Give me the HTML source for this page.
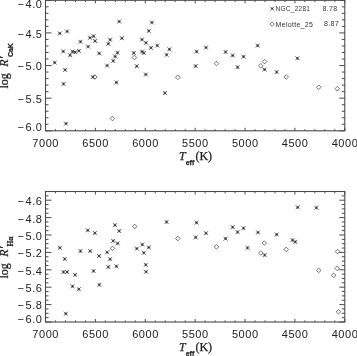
<!DOCTYPE html><html><head><meta charset="utf-8"><style>html,body{margin:0;padding:0;background:#fff;overflow:hidden}svg{display:block}</style></head><body><svg style="will-change:transform" width="357" height="356" viewBox="0 0 357 356">
<rect width="357" height="356" fill="#fff"/>
<style>
.tl{font-family:"Liberation Sans",sans-serif;font-size:11px;fill:#222;letter-spacing:0.55px}
.ser{font-family:"Liberation Serif",serif;font-size:12px;fill:#222;stroke:#222;stroke-width:0.25}
.it{font-style:italic}
.sb{font-family:"Liberation Sans",sans-serif;font-size:7px;font-weight:bold;fill:#222}
.lg{font-family:"Liberation Sans",sans-serif;font-size:7px;fill:#333;letter-spacing:0.3px}
</style>
<rect x="45.50" y="0.30" width="299.30" height="130.50" fill="none" stroke="#4a4a4a" stroke-width="1.1"/>
<line x1="45.50" y1="0.30" x2="51.50" y2="0.30" stroke="#4a4a4a" stroke-width="1.0"/>
<line x1="344.80" y1="0.30" x2="339.30" y2="0.30" stroke="#4a4a4a" stroke-width="1.0"/>
<line x1="45.50" y1="6.82" x2="48.50" y2="6.82" stroke="#4a4a4a" stroke-width="1.0"/>
<line x1="344.80" y1="6.82" x2="341.80" y2="6.82" stroke="#4a4a4a" stroke-width="1.0"/>
<line x1="45.50" y1="13.35" x2="48.50" y2="13.35" stroke="#4a4a4a" stroke-width="1.0"/>
<line x1="344.80" y1="13.35" x2="341.80" y2="13.35" stroke="#4a4a4a" stroke-width="1.0"/>
<line x1="45.50" y1="19.87" x2="48.50" y2="19.87" stroke="#4a4a4a" stroke-width="1.0"/>
<line x1="344.80" y1="19.87" x2="341.80" y2="19.87" stroke="#4a4a4a" stroke-width="1.0"/>
<line x1="45.50" y1="26.40" x2="48.50" y2="26.40" stroke="#4a4a4a" stroke-width="1.0"/>
<line x1="344.80" y1="26.40" x2="341.80" y2="26.40" stroke="#4a4a4a" stroke-width="1.0"/>
<line x1="45.50" y1="32.92" x2="51.50" y2="32.92" stroke="#4a4a4a" stroke-width="1.0"/>
<line x1="344.80" y1="32.92" x2="339.30" y2="32.92" stroke="#4a4a4a" stroke-width="1.0"/>
<line x1="45.50" y1="39.45" x2="48.50" y2="39.45" stroke="#4a4a4a" stroke-width="1.0"/>
<line x1="344.80" y1="39.45" x2="341.80" y2="39.45" stroke="#4a4a4a" stroke-width="1.0"/>
<line x1="45.50" y1="45.98" x2="48.50" y2="45.98" stroke="#4a4a4a" stroke-width="1.0"/>
<line x1="344.80" y1="45.98" x2="341.80" y2="45.98" stroke="#4a4a4a" stroke-width="1.0"/>
<line x1="45.50" y1="52.50" x2="48.50" y2="52.50" stroke="#4a4a4a" stroke-width="1.0"/>
<line x1="344.80" y1="52.50" x2="341.80" y2="52.50" stroke="#4a4a4a" stroke-width="1.0"/>
<line x1="45.50" y1="59.03" x2="48.50" y2="59.03" stroke="#4a4a4a" stroke-width="1.0"/>
<line x1="344.80" y1="59.03" x2="341.80" y2="59.03" stroke="#4a4a4a" stroke-width="1.0"/>
<line x1="45.50" y1="65.55" x2="51.50" y2="65.55" stroke="#4a4a4a" stroke-width="1.0"/>
<line x1="344.80" y1="65.55" x2="339.30" y2="65.55" stroke="#4a4a4a" stroke-width="1.0"/>
<line x1="45.50" y1="72.07" x2="48.50" y2="72.07" stroke="#4a4a4a" stroke-width="1.0"/>
<line x1="344.80" y1="72.07" x2="341.80" y2="72.07" stroke="#4a4a4a" stroke-width="1.0"/>
<line x1="45.50" y1="78.60" x2="48.50" y2="78.60" stroke="#4a4a4a" stroke-width="1.0"/>
<line x1="344.80" y1="78.60" x2="341.80" y2="78.60" stroke="#4a4a4a" stroke-width="1.0"/>
<line x1="45.50" y1="85.12" x2="48.50" y2="85.12" stroke="#4a4a4a" stroke-width="1.0"/>
<line x1="344.80" y1="85.12" x2="341.80" y2="85.12" stroke="#4a4a4a" stroke-width="1.0"/>
<line x1="45.50" y1="91.65" x2="48.50" y2="91.65" stroke="#4a4a4a" stroke-width="1.0"/>
<line x1="344.80" y1="91.65" x2="341.80" y2="91.65" stroke="#4a4a4a" stroke-width="1.0"/>
<line x1="45.50" y1="98.17" x2="51.50" y2="98.17" stroke="#4a4a4a" stroke-width="1.0"/>
<line x1="344.80" y1="98.17" x2="339.30" y2="98.17" stroke="#4a4a4a" stroke-width="1.0"/>
<line x1="45.50" y1="104.70" x2="48.50" y2="104.70" stroke="#4a4a4a" stroke-width="1.0"/>
<line x1="344.80" y1="104.70" x2="341.80" y2="104.70" stroke="#4a4a4a" stroke-width="1.0"/>
<line x1="45.50" y1="111.23" x2="48.50" y2="111.23" stroke="#4a4a4a" stroke-width="1.0"/>
<line x1="344.80" y1="111.23" x2="341.80" y2="111.23" stroke="#4a4a4a" stroke-width="1.0"/>
<line x1="45.50" y1="117.75" x2="48.50" y2="117.75" stroke="#4a4a4a" stroke-width="1.0"/>
<line x1="344.80" y1="117.75" x2="341.80" y2="117.75" stroke="#4a4a4a" stroke-width="1.0"/>
<line x1="45.50" y1="124.28" x2="48.50" y2="124.28" stroke="#4a4a4a" stroke-width="1.0"/>
<line x1="344.80" y1="124.28" x2="341.80" y2="124.28" stroke="#4a4a4a" stroke-width="1.0"/>
<line x1="45.50" y1="130.80" x2="51.50" y2="130.80" stroke="#4a4a4a" stroke-width="1.0"/>
<line x1="344.80" y1="130.80" x2="339.30" y2="130.80" stroke="#4a4a4a" stroke-width="1.0"/>
<line x1="344.80" y1="130.80" x2="344.80" y2="127.80" stroke="#4a4a4a" stroke-width="1.0"/>
<line x1="344.80" y1="0.30" x2="344.80" y2="3.30" stroke="#4a4a4a" stroke-width="1.0"/>
<line x1="334.82" y1="130.80" x2="334.82" y2="129.20" stroke="#4a4a4a" stroke-width="1.0"/>
<line x1="334.82" y1="0.30" x2="334.82" y2="2.10" stroke="#4a4a4a" stroke-width="1.0"/>
<line x1="324.85" y1="130.80" x2="324.85" y2="129.20" stroke="#4a4a4a" stroke-width="1.0"/>
<line x1="324.85" y1="0.30" x2="324.85" y2="2.10" stroke="#4a4a4a" stroke-width="1.0"/>
<line x1="314.87" y1="130.80" x2="314.87" y2="129.20" stroke="#4a4a4a" stroke-width="1.0"/>
<line x1="314.87" y1="0.30" x2="314.87" y2="2.10" stroke="#4a4a4a" stroke-width="1.0"/>
<line x1="304.89" y1="130.80" x2="304.89" y2="129.20" stroke="#4a4a4a" stroke-width="1.0"/>
<line x1="304.89" y1="0.30" x2="304.89" y2="2.10" stroke="#4a4a4a" stroke-width="1.0"/>
<line x1="294.92" y1="130.80" x2="294.92" y2="127.80" stroke="#4a4a4a" stroke-width="1.0"/>
<line x1="294.92" y1="0.30" x2="294.92" y2="3.30" stroke="#4a4a4a" stroke-width="1.0"/>
<line x1="284.94" y1="130.80" x2="284.94" y2="129.20" stroke="#4a4a4a" stroke-width="1.0"/>
<line x1="284.94" y1="0.30" x2="284.94" y2="2.10" stroke="#4a4a4a" stroke-width="1.0"/>
<line x1="274.96" y1="130.80" x2="274.96" y2="129.20" stroke="#4a4a4a" stroke-width="1.0"/>
<line x1="274.96" y1="0.30" x2="274.96" y2="2.10" stroke="#4a4a4a" stroke-width="1.0"/>
<line x1="264.99" y1="130.80" x2="264.99" y2="129.20" stroke="#4a4a4a" stroke-width="1.0"/>
<line x1="264.99" y1="0.30" x2="264.99" y2="2.10" stroke="#4a4a4a" stroke-width="1.0"/>
<line x1="255.01" y1="130.80" x2="255.01" y2="129.20" stroke="#4a4a4a" stroke-width="1.0"/>
<line x1="255.01" y1="0.30" x2="255.01" y2="2.10" stroke="#4a4a4a" stroke-width="1.0"/>
<line x1="245.03" y1="130.80" x2="245.03" y2="127.80" stroke="#4a4a4a" stroke-width="1.0"/>
<line x1="245.03" y1="0.30" x2="245.03" y2="3.30" stroke="#4a4a4a" stroke-width="1.0"/>
<line x1="235.06" y1="130.80" x2="235.06" y2="129.20" stroke="#4a4a4a" stroke-width="1.0"/>
<line x1="235.06" y1="0.30" x2="235.06" y2="2.10" stroke="#4a4a4a" stroke-width="1.0"/>
<line x1="225.08" y1="130.80" x2="225.08" y2="129.20" stroke="#4a4a4a" stroke-width="1.0"/>
<line x1="225.08" y1="0.30" x2="225.08" y2="2.10" stroke="#4a4a4a" stroke-width="1.0"/>
<line x1="215.10" y1="130.80" x2="215.10" y2="129.20" stroke="#4a4a4a" stroke-width="1.0"/>
<line x1="215.10" y1="0.30" x2="215.10" y2="2.10" stroke="#4a4a4a" stroke-width="1.0"/>
<line x1="205.13" y1="130.80" x2="205.13" y2="129.20" stroke="#4a4a4a" stroke-width="1.0"/>
<line x1="205.13" y1="0.30" x2="205.13" y2="2.10" stroke="#4a4a4a" stroke-width="1.0"/>
<line x1="195.15" y1="130.80" x2="195.15" y2="127.80" stroke="#4a4a4a" stroke-width="1.0"/>
<line x1="195.15" y1="0.30" x2="195.15" y2="3.30" stroke="#4a4a4a" stroke-width="1.0"/>
<line x1="185.17" y1="130.80" x2="185.17" y2="129.20" stroke="#4a4a4a" stroke-width="1.0"/>
<line x1="185.17" y1="0.30" x2="185.17" y2="2.10" stroke="#4a4a4a" stroke-width="1.0"/>
<line x1="175.20" y1="130.80" x2="175.20" y2="129.20" stroke="#4a4a4a" stroke-width="1.0"/>
<line x1="175.20" y1="0.30" x2="175.20" y2="2.10" stroke="#4a4a4a" stroke-width="1.0"/>
<line x1="165.22" y1="130.80" x2="165.22" y2="129.20" stroke="#4a4a4a" stroke-width="1.0"/>
<line x1="165.22" y1="0.30" x2="165.22" y2="2.10" stroke="#4a4a4a" stroke-width="1.0"/>
<line x1="155.24" y1="130.80" x2="155.24" y2="129.20" stroke="#4a4a4a" stroke-width="1.0"/>
<line x1="155.24" y1="0.30" x2="155.24" y2="2.10" stroke="#4a4a4a" stroke-width="1.0"/>
<line x1="145.27" y1="130.80" x2="145.27" y2="127.80" stroke="#4a4a4a" stroke-width="1.0"/>
<line x1="145.27" y1="0.30" x2="145.27" y2="3.30" stroke="#4a4a4a" stroke-width="1.0"/>
<line x1="135.29" y1="130.80" x2="135.29" y2="129.20" stroke="#4a4a4a" stroke-width="1.0"/>
<line x1="135.29" y1="0.30" x2="135.29" y2="2.10" stroke="#4a4a4a" stroke-width="1.0"/>
<line x1="125.31" y1="130.80" x2="125.31" y2="129.20" stroke="#4a4a4a" stroke-width="1.0"/>
<line x1="125.31" y1="0.30" x2="125.31" y2="2.10" stroke="#4a4a4a" stroke-width="1.0"/>
<line x1="115.34" y1="130.80" x2="115.34" y2="129.20" stroke="#4a4a4a" stroke-width="1.0"/>
<line x1="115.34" y1="0.30" x2="115.34" y2="2.10" stroke="#4a4a4a" stroke-width="1.0"/>
<line x1="105.36" y1="130.80" x2="105.36" y2="129.20" stroke="#4a4a4a" stroke-width="1.0"/>
<line x1="105.36" y1="0.30" x2="105.36" y2="2.10" stroke="#4a4a4a" stroke-width="1.0"/>
<line x1="95.38" y1="130.80" x2="95.38" y2="127.80" stroke="#4a4a4a" stroke-width="1.0"/>
<line x1="95.38" y1="0.30" x2="95.38" y2="3.30" stroke="#4a4a4a" stroke-width="1.0"/>
<line x1="85.41" y1="130.80" x2="85.41" y2="129.20" stroke="#4a4a4a" stroke-width="1.0"/>
<line x1="85.41" y1="0.30" x2="85.41" y2="2.10" stroke="#4a4a4a" stroke-width="1.0"/>
<line x1="75.43" y1="130.80" x2="75.43" y2="129.20" stroke="#4a4a4a" stroke-width="1.0"/>
<line x1="75.43" y1="0.30" x2="75.43" y2="2.10" stroke="#4a4a4a" stroke-width="1.0"/>
<line x1="65.45" y1="130.80" x2="65.45" y2="129.20" stroke="#4a4a4a" stroke-width="1.0"/>
<line x1="65.45" y1="0.30" x2="65.45" y2="2.10" stroke="#4a4a4a" stroke-width="1.0"/>
<line x1="55.48" y1="130.80" x2="55.48" y2="129.20" stroke="#4a4a4a" stroke-width="1.0"/>
<line x1="55.48" y1="0.30" x2="55.48" y2="2.10" stroke="#4a4a4a" stroke-width="1.0"/>
<line x1="45.50" y1="130.80" x2="45.50" y2="127.80" stroke="#4a4a4a" stroke-width="1.0"/>
<line x1="45.50" y1="0.30" x2="45.50" y2="3.30" stroke="#4a4a4a" stroke-width="1.0"/>
<text x="42.5" y="7.80" class="tl" text-anchor="end">−<tspan dx="1">4.0</tspan></text>
<text x="42.5" y="37.60" class="tl" text-anchor="end">−<tspan dx="1">4.5</tspan></text>
<text x="42.5" y="70.10" class="tl" text-anchor="end">−<tspan dx="1">5.0</tspan></text>
<text x="42.5" y="102.50" class="tl" text-anchor="end">−<tspan dx="1">5.5</tspan></text>
<text x="42.5" y="130.50" class="tl" text-anchor="end">−<tspan dx="1">6.0</tspan></text>
<text x="45.70" y="146.50" class="tl" text-anchor="middle">7000</text>
<text x="95.58" y="146.50" class="tl" text-anchor="middle">6500</text>
<text x="145.47" y="146.50" class="tl" text-anchor="middle">6000</text>
<text x="195.35" y="146.50" class="tl" text-anchor="middle">5500</text>
<text x="245.23" y="146.50" class="tl" text-anchor="middle">5000</text>
<text x="295.12" y="146.50" class="tl" text-anchor="middle">4500</text>
<text x="345.00" y="146.50" class="tl" text-anchor="middle">4000</text>
<rect x="45.50" y="191.50" width="299.30" height="130.50" fill="none" stroke="#4a4a4a" stroke-width="1.1"/>
<line x1="45.50" y1="191.50" x2="48.50" y2="191.50" stroke="#4a4a4a" stroke-width="1.0"/>
<line x1="344.80" y1="191.50" x2="341.80" y2="191.50" stroke="#4a4a4a" stroke-width="1.0"/>
<line x1="45.50" y1="195.85" x2="48.50" y2="195.85" stroke="#4a4a4a" stroke-width="1.0"/>
<line x1="344.80" y1="195.85" x2="341.80" y2="195.85" stroke="#4a4a4a" stroke-width="1.0"/>
<line x1="45.50" y1="200.20" x2="51.50" y2="200.20" stroke="#4a4a4a" stroke-width="1.0"/>
<line x1="344.80" y1="200.20" x2="339.30" y2="200.20" stroke="#4a4a4a" stroke-width="1.0"/>
<line x1="45.50" y1="204.55" x2="48.50" y2="204.55" stroke="#4a4a4a" stroke-width="1.0"/>
<line x1="344.80" y1="204.55" x2="341.80" y2="204.55" stroke="#4a4a4a" stroke-width="1.0"/>
<line x1="45.50" y1="208.90" x2="48.50" y2="208.90" stroke="#4a4a4a" stroke-width="1.0"/>
<line x1="344.80" y1="208.90" x2="341.80" y2="208.90" stroke="#4a4a4a" stroke-width="1.0"/>
<line x1="45.50" y1="213.25" x2="48.50" y2="213.25" stroke="#4a4a4a" stroke-width="1.0"/>
<line x1="344.80" y1="213.25" x2="341.80" y2="213.25" stroke="#4a4a4a" stroke-width="1.0"/>
<line x1="45.50" y1="217.60" x2="51.50" y2="217.60" stroke="#4a4a4a" stroke-width="1.0"/>
<line x1="344.80" y1="217.60" x2="339.30" y2="217.60" stroke="#4a4a4a" stroke-width="1.0"/>
<line x1="45.50" y1="221.95" x2="48.50" y2="221.95" stroke="#4a4a4a" stroke-width="1.0"/>
<line x1="344.80" y1="221.95" x2="341.80" y2="221.95" stroke="#4a4a4a" stroke-width="1.0"/>
<line x1="45.50" y1="226.30" x2="48.50" y2="226.30" stroke="#4a4a4a" stroke-width="1.0"/>
<line x1="344.80" y1="226.30" x2="341.80" y2="226.30" stroke="#4a4a4a" stroke-width="1.0"/>
<line x1="45.50" y1="230.65" x2="48.50" y2="230.65" stroke="#4a4a4a" stroke-width="1.0"/>
<line x1="344.80" y1="230.65" x2="341.80" y2="230.65" stroke="#4a4a4a" stroke-width="1.0"/>
<line x1="45.50" y1="235.00" x2="51.50" y2="235.00" stroke="#4a4a4a" stroke-width="1.0"/>
<line x1="344.80" y1="235.00" x2="339.30" y2="235.00" stroke="#4a4a4a" stroke-width="1.0"/>
<line x1="45.50" y1="239.35" x2="48.50" y2="239.35" stroke="#4a4a4a" stroke-width="1.0"/>
<line x1="344.80" y1="239.35" x2="341.80" y2="239.35" stroke="#4a4a4a" stroke-width="1.0"/>
<line x1="45.50" y1="243.70" x2="48.50" y2="243.70" stroke="#4a4a4a" stroke-width="1.0"/>
<line x1="344.80" y1="243.70" x2="341.80" y2="243.70" stroke="#4a4a4a" stroke-width="1.0"/>
<line x1="45.50" y1="248.05" x2="48.50" y2="248.05" stroke="#4a4a4a" stroke-width="1.0"/>
<line x1="344.80" y1="248.05" x2="341.80" y2="248.05" stroke="#4a4a4a" stroke-width="1.0"/>
<line x1="45.50" y1="252.40" x2="51.50" y2="252.40" stroke="#4a4a4a" stroke-width="1.0"/>
<line x1="344.80" y1="252.40" x2="339.30" y2="252.40" stroke="#4a4a4a" stroke-width="1.0"/>
<line x1="45.50" y1="256.75" x2="48.50" y2="256.75" stroke="#4a4a4a" stroke-width="1.0"/>
<line x1="344.80" y1="256.75" x2="341.80" y2="256.75" stroke="#4a4a4a" stroke-width="1.0"/>
<line x1="45.50" y1="261.10" x2="48.50" y2="261.10" stroke="#4a4a4a" stroke-width="1.0"/>
<line x1="344.80" y1="261.10" x2="341.80" y2="261.10" stroke="#4a4a4a" stroke-width="1.0"/>
<line x1="45.50" y1="265.45" x2="48.50" y2="265.45" stroke="#4a4a4a" stroke-width="1.0"/>
<line x1="344.80" y1="265.45" x2="341.80" y2="265.45" stroke="#4a4a4a" stroke-width="1.0"/>
<line x1="45.50" y1="269.80" x2="51.50" y2="269.80" stroke="#4a4a4a" stroke-width="1.0"/>
<line x1="344.80" y1="269.80" x2="339.30" y2="269.80" stroke="#4a4a4a" stroke-width="1.0"/>
<line x1="45.50" y1="274.15" x2="48.50" y2="274.15" stroke="#4a4a4a" stroke-width="1.0"/>
<line x1="344.80" y1="274.15" x2="341.80" y2="274.15" stroke="#4a4a4a" stroke-width="1.0"/>
<line x1="45.50" y1="278.50" x2="48.50" y2="278.50" stroke="#4a4a4a" stroke-width="1.0"/>
<line x1="344.80" y1="278.50" x2="341.80" y2="278.50" stroke="#4a4a4a" stroke-width="1.0"/>
<line x1="45.50" y1="282.85" x2="48.50" y2="282.85" stroke="#4a4a4a" stroke-width="1.0"/>
<line x1="344.80" y1="282.85" x2="341.80" y2="282.85" stroke="#4a4a4a" stroke-width="1.0"/>
<line x1="45.50" y1="287.20" x2="51.50" y2="287.20" stroke="#4a4a4a" stroke-width="1.0"/>
<line x1="344.80" y1="287.20" x2="339.30" y2="287.20" stroke="#4a4a4a" stroke-width="1.0"/>
<line x1="45.50" y1="291.55" x2="48.50" y2="291.55" stroke="#4a4a4a" stroke-width="1.0"/>
<line x1="344.80" y1="291.55" x2="341.80" y2="291.55" stroke="#4a4a4a" stroke-width="1.0"/>
<line x1="45.50" y1="295.90" x2="48.50" y2="295.90" stroke="#4a4a4a" stroke-width="1.0"/>
<line x1="344.80" y1="295.90" x2="341.80" y2="295.90" stroke="#4a4a4a" stroke-width="1.0"/>
<line x1="45.50" y1="300.25" x2="48.50" y2="300.25" stroke="#4a4a4a" stroke-width="1.0"/>
<line x1="344.80" y1="300.25" x2="341.80" y2="300.25" stroke="#4a4a4a" stroke-width="1.0"/>
<line x1="45.50" y1="304.60" x2="51.50" y2="304.60" stroke="#4a4a4a" stroke-width="1.0"/>
<line x1="344.80" y1="304.60" x2="339.30" y2="304.60" stroke="#4a4a4a" stroke-width="1.0"/>
<line x1="45.50" y1="308.95" x2="48.50" y2="308.95" stroke="#4a4a4a" stroke-width="1.0"/>
<line x1="344.80" y1="308.95" x2="341.80" y2="308.95" stroke="#4a4a4a" stroke-width="1.0"/>
<line x1="45.50" y1="313.30" x2="48.50" y2="313.30" stroke="#4a4a4a" stroke-width="1.0"/>
<line x1="344.80" y1="313.30" x2="341.80" y2="313.30" stroke="#4a4a4a" stroke-width="1.0"/>
<line x1="45.50" y1="317.65" x2="48.50" y2="317.65" stroke="#4a4a4a" stroke-width="1.0"/>
<line x1="344.80" y1="317.65" x2="341.80" y2="317.65" stroke="#4a4a4a" stroke-width="1.0"/>
<line x1="45.50" y1="322.00" x2="51.50" y2="322.00" stroke="#4a4a4a" stroke-width="1.0"/>
<line x1="344.80" y1="322.00" x2="339.30" y2="322.00" stroke="#4a4a4a" stroke-width="1.0"/>
<line x1="344.80" y1="322.00" x2="344.80" y2="319.00" stroke="#4a4a4a" stroke-width="1.0"/>
<line x1="344.80" y1="191.50" x2="344.80" y2="194.50" stroke="#4a4a4a" stroke-width="1.0"/>
<line x1="334.82" y1="322.00" x2="334.82" y2="320.40" stroke="#4a4a4a" stroke-width="1.0"/>
<line x1="334.82" y1="191.50" x2="334.82" y2="193.30" stroke="#4a4a4a" stroke-width="1.0"/>
<line x1="324.85" y1="322.00" x2="324.85" y2="320.40" stroke="#4a4a4a" stroke-width="1.0"/>
<line x1="324.85" y1="191.50" x2="324.85" y2="193.30" stroke="#4a4a4a" stroke-width="1.0"/>
<line x1="314.87" y1="322.00" x2="314.87" y2="320.40" stroke="#4a4a4a" stroke-width="1.0"/>
<line x1="314.87" y1="191.50" x2="314.87" y2="193.30" stroke="#4a4a4a" stroke-width="1.0"/>
<line x1="304.89" y1="322.00" x2="304.89" y2="320.40" stroke="#4a4a4a" stroke-width="1.0"/>
<line x1="304.89" y1="191.50" x2="304.89" y2="193.30" stroke="#4a4a4a" stroke-width="1.0"/>
<line x1="294.92" y1="322.00" x2="294.92" y2="319.00" stroke="#4a4a4a" stroke-width="1.0"/>
<line x1="294.92" y1="191.50" x2="294.92" y2="194.50" stroke="#4a4a4a" stroke-width="1.0"/>
<line x1="284.94" y1="322.00" x2="284.94" y2="320.40" stroke="#4a4a4a" stroke-width="1.0"/>
<line x1="284.94" y1="191.50" x2="284.94" y2="193.30" stroke="#4a4a4a" stroke-width="1.0"/>
<line x1="274.96" y1="322.00" x2="274.96" y2="320.40" stroke="#4a4a4a" stroke-width="1.0"/>
<line x1="274.96" y1="191.50" x2="274.96" y2="193.30" stroke="#4a4a4a" stroke-width="1.0"/>
<line x1="264.99" y1="322.00" x2="264.99" y2="320.40" stroke="#4a4a4a" stroke-width="1.0"/>
<line x1="264.99" y1="191.50" x2="264.99" y2="193.30" stroke="#4a4a4a" stroke-width="1.0"/>
<line x1="255.01" y1="322.00" x2="255.01" y2="320.40" stroke="#4a4a4a" stroke-width="1.0"/>
<line x1="255.01" y1="191.50" x2="255.01" y2="193.30" stroke="#4a4a4a" stroke-width="1.0"/>
<line x1="245.03" y1="322.00" x2="245.03" y2="319.00" stroke="#4a4a4a" stroke-width="1.0"/>
<line x1="245.03" y1="191.50" x2="245.03" y2="194.50" stroke="#4a4a4a" stroke-width="1.0"/>
<line x1="235.06" y1="322.00" x2="235.06" y2="320.40" stroke="#4a4a4a" stroke-width="1.0"/>
<line x1="235.06" y1="191.50" x2="235.06" y2="193.30" stroke="#4a4a4a" stroke-width="1.0"/>
<line x1="225.08" y1="322.00" x2="225.08" y2="320.40" stroke="#4a4a4a" stroke-width="1.0"/>
<line x1="225.08" y1="191.50" x2="225.08" y2="193.30" stroke="#4a4a4a" stroke-width="1.0"/>
<line x1="215.10" y1="322.00" x2="215.10" y2="320.40" stroke="#4a4a4a" stroke-width="1.0"/>
<line x1="215.10" y1="191.50" x2="215.10" y2="193.30" stroke="#4a4a4a" stroke-width="1.0"/>
<line x1="205.13" y1="322.00" x2="205.13" y2="320.40" stroke="#4a4a4a" stroke-width="1.0"/>
<line x1="205.13" y1="191.50" x2="205.13" y2="193.30" stroke="#4a4a4a" stroke-width="1.0"/>
<line x1="195.15" y1="322.00" x2="195.15" y2="319.00" stroke="#4a4a4a" stroke-width="1.0"/>
<line x1="195.15" y1="191.50" x2="195.15" y2="194.50" stroke="#4a4a4a" stroke-width="1.0"/>
<line x1="185.17" y1="322.00" x2="185.17" y2="320.40" stroke="#4a4a4a" stroke-width="1.0"/>
<line x1="185.17" y1="191.50" x2="185.17" y2="193.30" stroke="#4a4a4a" stroke-width="1.0"/>
<line x1="175.20" y1="322.00" x2="175.20" y2="320.40" stroke="#4a4a4a" stroke-width="1.0"/>
<line x1="175.20" y1="191.50" x2="175.20" y2="193.30" stroke="#4a4a4a" stroke-width="1.0"/>
<line x1="165.22" y1="322.00" x2="165.22" y2="320.40" stroke="#4a4a4a" stroke-width="1.0"/>
<line x1="165.22" y1="191.50" x2="165.22" y2="193.30" stroke="#4a4a4a" stroke-width="1.0"/>
<line x1="155.24" y1="322.00" x2="155.24" y2="320.40" stroke="#4a4a4a" stroke-width="1.0"/>
<line x1="155.24" y1="191.50" x2="155.24" y2="193.30" stroke="#4a4a4a" stroke-width="1.0"/>
<line x1="145.27" y1="322.00" x2="145.27" y2="319.00" stroke="#4a4a4a" stroke-width="1.0"/>
<line x1="145.27" y1="191.50" x2="145.27" y2="194.50" stroke="#4a4a4a" stroke-width="1.0"/>
<line x1="135.29" y1="322.00" x2="135.29" y2="320.40" stroke="#4a4a4a" stroke-width="1.0"/>
<line x1="135.29" y1="191.50" x2="135.29" y2="193.30" stroke="#4a4a4a" stroke-width="1.0"/>
<line x1="125.31" y1="322.00" x2="125.31" y2="320.40" stroke="#4a4a4a" stroke-width="1.0"/>
<line x1="125.31" y1="191.50" x2="125.31" y2="193.30" stroke="#4a4a4a" stroke-width="1.0"/>
<line x1="115.34" y1="322.00" x2="115.34" y2="320.40" stroke="#4a4a4a" stroke-width="1.0"/>
<line x1="115.34" y1="191.50" x2="115.34" y2="193.30" stroke="#4a4a4a" stroke-width="1.0"/>
<line x1="105.36" y1="322.00" x2="105.36" y2="320.40" stroke="#4a4a4a" stroke-width="1.0"/>
<line x1="105.36" y1="191.50" x2="105.36" y2="193.30" stroke="#4a4a4a" stroke-width="1.0"/>
<line x1="95.38" y1="322.00" x2="95.38" y2="319.00" stroke="#4a4a4a" stroke-width="1.0"/>
<line x1="95.38" y1="191.50" x2="95.38" y2="194.50" stroke="#4a4a4a" stroke-width="1.0"/>
<line x1="85.41" y1="322.00" x2="85.41" y2="320.40" stroke="#4a4a4a" stroke-width="1.0"/>
<line x1="85.41" y1="191.50" x2="85.41" y2="193.30" stroke="#4a4a4a" stroke-width="1.0"/>
<line x1="75.43" y1="322.00" x2="75.43" y2="320.40" stroke="#4a4a4a" stroke-width="1.0"/>
<line x1="75.43" y1="191.50" x2="75.43" y2="193.30" stroke="#4a4a4a" stroke-width="1.0"/>
<line x1="65.45" y1="322.00" x2="65.45" y2="320.40" stroke="#4a4a4a" stroke-width="1.0"/>
<line x1="65.45" y1="191.50" x2="65.45" y2="193.30" stroke="#4a4a4a" stroke-width="1.0"/>
<line x1="55.48" y1="322.00" x2="55.48" y2="320.40" stroke="#4a4a4a" stroke-width="1.0"/>
<line x1="55.48" y1="191.50" x2="55.48" y2="193.30" stroke="#4a4a4a" stroke-width="1.0"/>
<line x1="45.50" y1="322.00" x2="45.50" y2="319.00" stroke="#4a4a4a" stroke-width="1.0"/>
<line x1="45.50" y1="191.50" x2="45.50" y2="194.50" stroke="#4a4a4a" stroke-width="1.0"/>
<text x="42.5" y="205.20" class="tl" text-anchor="end">−<tspan dx="1">4.6</tspan></text>
<text x="42.5" y="222.50" class="tl" text-anchor="end">−<tspan dx="1">4.8</tspan></text>
<text x="42.5" y="239.90" class="tl" text-anchor="end">−<tspan dx="1">5.0</tspan></text>
<text x="42.5" y="257.20" class="tl" text-anchor="end">−<tspan dx="1">5.2</tspan></text>
<text x="42.5" y="274.60" class="tl" text-anchor="end">−<tspan dx="1">5.4</tspan></text>
<text x="42.5" y="291.80" class="tl" text-anchor="end">−<tspan dx="1">5.6</tspan></text>
<text x="42.5" y="309.30" class="tl" text-anchor="end">−<tspan dx="1">5.8</tspan></text>
<text x="42.5" y="322.60" class="tl" text-anchor="end">−<tspan dx="1">6.0</tspan></text>
<text x="45.70" y="337.80" class="tl" text-anchor="middle">7000</text>
<text x="95.58" y="337.80" class="tl" text-anchor="middle">6500</text>
<text x="145.47" y="337.80" class="tl" text-anchor="middle">6000</text>
<text x="195.35" y="337.80" class="tl" text-anchor="middle">5500</text>
<text x="245.23" y="337.80" class="tl" text-anchor="middle">5000</text>
<text x="295.12" y="337.80" class="tl" text-anchor="middle">4500</text>
<text x="345.00" y="337.80" class="tl" text-anchor="middle">4000</text>
<path d="M52.70 60.60L56.70 64.60M52.70 64.60L56.70 60.60M53.30 62.60H56.10M54.70 61.20V64.00" stroke="#2a2a2a" stroke-width="0.7" fill="none"/>
<path d="M57.80 31.40L61.80 35.40M57.80 35.40L61.80 31.40M58.40 33.40H61.20M59.80 32.00V34.80" stroke="#2a2a2a" stroke-width="0.7" fill="none"/>
<path d="M65.10 29.40L69.10 33.40M65.10 33.40L69.10 29.40M65.70 31.40H68.50M67.10 30.00V32.80" stroke="#2a2a2a" stroke-width="0.7" fill="none"/>
<path d="M61.20 49.40L65.20 53.40M61.20 53.40L65.20 49.40M61.80 51.40H64.60M63.20 50.00V52.80" stroke="#2a2a2a" stroke-width="0.7" fill="none"/>
<path d="M63.10 67.90L67.10 71.90M63.10 71.90L67.10 67.90M63.70 69.90H66.50M65.10 68.50V71.30" stroke="#2a2a2a" stroke-width="0.7" fill="none"/>
<path d="M61.50 81.90L65.50 85.90M61.50 85.90L65.50 81.90M62.10 83.90H64.90M63.50 82.50V85.30" stroke="#2a2a2a" stroke-width="0.7" fill="none"/>
<path d="M64.00 121.60L68.00 125.60M64.00 125.60L68.00 121.60M64.60 123.60H67.40M66.00 122.20V125.00" stroke="#2a2a2a" stroke-width="0.7" fill="none"/>
<path d="M68.10 53.20L72.10 57.20M68.10 57.20L72.10 53.20M68.70 55.20H71.50M70.10 53.80V56.60" stroke="#2a2a2a" stroke-width="0.7" fill="none"/>
<path d="M70.60 49.60L74.60 53.60M70.60 53.60L74.60 49.60M71.20 51.60H74.00M72.60 50.20V53.00" stroke="#2a2a2a" stroke-width="0.7" fill="none"/>
<path d="M73.20 50.20L77.20 54.20M73.20 54.20L77.20 50.20M73.80 52.20H76.60M75.20 50.80V53.60" stroke="#2a2a2a" stroke-width="0.7" fill="none"/>
<path d="M76.90 48.90L80.90 52.90M76.90 52.90L80.90 48.90M77.50 50.90H80.30M78.90 49.50V52.30" stroke="#2a2a2a" stroke-width="0.7" fill="none"/>
<path d="M78.50 39.80L82.50 43.80M78.50 43.80L82.50 39.80M79.10 41.80H81.90M80.50 40.40V43.20" stroke="#2a2a2a" stroke-width="0.7" fill="none"/>
<path d="M86.10 44.60L90.10 48.60M86.10 48.60L90.10 44.60M86.70 46.60H89.50M88.10 45.20V48.00" stroke="#2a2a2a" stroke-width="0.7" fill="none"/>
<path d="M88.00 35.80L92.00 39.80M88.00 39.80L92.00 35.80M88.60 37.80H91.40M90.00 36.40V39.20" stroke="#2a2a2a" stroke-width="0.7" fill="none"/>
<path d="M91.60 34.20L95.60 38.20M91.60 38.20L95.60 34.20M92.20 36.20H95.00M93.60 34.80V37.60" stroke="#2a2a2a" stroke-width="0.7" fill="none"/>
<path d="M93.10 39.00L97.10 43.00M93.10 43.00L97.10 39.00M93.70 41.00H96.50M95.10 39.60V42.40" stroke="#2a2a2a" stroke-width="0.7" fill="none"/>
<path d="M90.90 75.00L94.90 79.00M90.90 79.00L94.90 75.00M91.50 77.00H94.30M92.90 75.60V78.40" stroke="#2a2a2a" stroke-width="0.7" fill="none"/>
<path d="M97.20 51.40L101.20 55.40M97.20 55.40L101.20 51.40M97.80 53.40H100.60M99.20 52.00V54.80" stroke="#2a2a2a" stroke-width="0.7" fill="none"/>
<path d="M105.10 63.60L109.10 67.60M105.10 67.60L109.10 63.60M105.70 65.60H108.50M107.10 64.20V67.00" stroke="#2a2a2a" stroke-width="0.7" fill="none"/>
<path d="M106.30 41.80L110.30 45.80M106.30 45.80L110.30 41.80M106.90 43.80H109.70M108.30 42.40V45.20" stroke="#2a2a2a" stroke-width="0.7" fill="none"/>
<path d="M108.10 37.70L112.10 41.70M108.10 41.70L112.10 37.70M108.70 39.70H111.50M110.10 38.30V41.10" stroke="#2a2a2a" stroke-width="0.7" fill="none"/>
<path d="M111.20 58.90L115.20 62.90M111.20 62.90L115.20 58.90M111.80 60.90H114.60M113.20 59.50V62.30" stroke="#2a2a2a" stroke-width="0.7" fill="none"/>
<path d="M113.10 54.50L117.10 58.50M113.10 58.50L117.10 54.50M113.70 56.50H116.50M115.10 55.10V57.90" stroke="#2a2a2a" stroke-width="0.7" fill="none"/>
<path d="M115.50 50.70L119.50 54.70M115.50 54.70L119.50 50.70M116.10 52.70H118.90M117.50 51.30V54.10" stroke="#2a2a2a" stroke-width="0.7" fill="none"/>
<path d="M114.40 80.50L118.40 84.50M114.40 84.50L118.40 80.50M115.00 82.50H117.80M116.40 81.10V83.90" stroke="#2a2a2a" stroke-width="0.7" fill="none"/>
<path d="M117.20 19.50L121.20 23.50M117.20 23.50L121.20 19.50M117.80 21.50H120.60M119.20 20.10V22.90" stroke="#2a2a2a" stroke-width="0.7" fill="none"/>
<path d="M119.90 36.20L123.90 40.20M119.90 40.20L123.90 36.20M120.50 38.20H123.30M121.90 36.80V39.60" stroke="#2a2a2a" stroke-width="0.7" fill="none"/>
<path d="M131.80 51.00L135.80 55.00M131.80 55.00L135.80 51.00M132.40 53.00H135.20M133.80 51.60V54.40" stroke="#2a2a2a" stroke-width="0.7" fill="none"/>
<path d="M134.80 64.20L138.80 68.20M134.80 68.20L138.80 64.20M135.40 66.20H138.20M136.80 64.80V67.60" stroke="#2a2a2a" stroke-width="0.7" fill="none"/>
<path d="M140.00 37.60L144.00 41.60M140.00 41.60L144.00 37.60M140.60 39.60H143.40M142.00 38.20V41.00" stroke="#2a2a2a" stroke-width="0.7" fill="none"/>
<path d="M140.00 49.60L144.00 53.60M140.00 53.60L144.00 49.60M140.60 51.60H143.40M142.00 50.20V53.00" stroke="#2a2a2a" stroke-width="0.7" fill="none"/>
<path d="M141.80 51.00L145.80 55.00M141.80 55.00L145.80 51.00M142.40 53.00H145.20M143.80 51.60V54.40" stroke="#2a2a2a" stroke-width="0.7" fill="none"/>
<path d="M144.00 40.80L148.00 44.80M144.00 44.80L148.00 40.80M144.60 42.80H147.40M146.00 41.40V44.20" stroke="#2a2a2a" stroke-width="0.7" fill="none"/>
<path d="M143.80 72.50L147.80 76.50M143.80 76.50L147.80 72.50M144.40 74.50H147.20M145.80 73.10V75.90" stroke="#2a2a2a" stroke-width="0.7" fill="none"/>
<path d="M146.80 28.90L150.80 32.90M146.80 32.90L150.80 28.90M147.40 30.90H150.20M148.80 29.50V32.30" stroke="#2a2a2a" stroke-width="0.7" fill="none"/>
<path d="M149.00 45.80L153.00 49.80M149.00 49.80L153.00 45.80M149.60 47.80H152.40M151.00 46.40V49.20" stroke="#2a2a2a" stroke-width="0.7" fill="none"/>
<path d="M149.90 20.50L153.90 24.50M149.90 24.50L153.90 20.50M150.50 22.50H153.30M151.90 21.10V23.90" stroke="#2a2a2a" stroke-width="0.7" fill="none"/>
<path d="M155.30 43.60L159.30 47.60M155.30 47.60L159.30 43.60M155.90 45.60H158.70M157.30 44.20V47.00" stroke="#2a2a2a" stroke-width="0.7" fill="none"/>
<path d="M162.90 91.00L166.90 95.00M162.90 95.00L166.90 91.00M163.50 93.00H166.30M164.90 91.60V94.40" stroke="#2a2a2a" stroke-width="0.7" fill="none"/>
<path d="M164.60 52.80L168.60 56.80M164.60 56.80L168.60 52.80M165.20 54.80H168.00M166.60 53.40V56.20" stroke="#2a2a2a" stroke-width="0.7" fill="none"/>
<path d="M167.40 47.30L171.40 51.30M167.40 51.30L171.40 47.30M168.00 49.30H170.80M169.40 47.90V50.70" stroke="#2a2a2a" stroke-width="0.7" fill="none"/>
<path d="M193.70 64.10L197.70 68.10M193.70 68.10L197.70 64.10M194.30 66.10H197.10M195.70 64.70V67.50" stroke="#2a2a2a" stroke-width="0.7" fill="none"/>
<path d="M194.60 49.60L198.60 53.60M194.60 53.60L198.60 49.60M195.20 51.60H198.00M196.60 50.20V53.00" stroke="#2a2a2a" stroke-width="0.7" fill="none"/>
<path d="M204.00 45.60L208.00 49.60M204.00 49.60L208.00 45.60M204.60 47.60H207.40M206.00 46.20V49.00" stroke="#2a2a2a" stroke-width="0.7" fill="none"/>
<path d="M223.60 50.00L227.60 54.00M223.60 54.00L227.60 50.00M224.20 52.00H227.00M225.60 50.60V53.40" stroke="#2a2a2a" stroke-width="0.7" fill="none"/>
<path d="M230.70 53.50L234.70 57.50M230.70 57.50L234.70 53.50M231.30 55.50H234.10M232.70 54.10V56.90" stroke="#2a2a2a" stroke-width="0.7" fill="none"/>
<path d="M235.60 65.20L239.60 69.20M235.60 69.20L239.60 65.20M236.20 67.20H239.00M237.60 65.80V68.60" stroke="#2a2a2a" stroke-width="0.7" fill="none"/>
<path d="M241.50 54.70L245.50 58.70M241.50 58.70L245.50 54.70M242.10 56.70H244.90M243.50 55.30V58.10" stroke="#2a2a2a" stroke-width="0.7" fill="none"/>
<path d="M255.70 43.60L259.70 47.60M255.70 47.60L259.70 43.60M256.30 45.60H259.10M257.70 44.20V47.00" stroke="#2a2a2a" stroke-width="0.7" fill="none"/>
<path d="M262.60 67.60L266.60 71.60M262.60 71.60L266.60 67.60M263.20 69.60H266.00M264.60 68.20V71.00" stroke="#2a2a2a" stroke-width="0.7" fill="none"/>
<path d="M274.70 70.10L278.70 74.10M274.70 74.10L278.70 70.10M275.30 72.10H278.10M276.70 70.70V73.50" stroke="#2a2a2a" stroke-width="0.7" fill="none"/>
<path d="M295.40 56.30L299.40 60.30M295.40 60.30L299.40 56.30M296.00 58.30H298.80M297.40 56.90V59.70" stroke="#2a2a2a" stroke-width="0.7" fill="none"/>
<path d="M94.80 74.70L97.10 77.00L94.80 79.30L92.50 77.00Z" stroke="#444" stroke-width="0.75" fill="none"/>
<path d="M112.40 116.20L114.70 118.50L112.40 120.80L110.10 118.50Z" stroke="#444" stroke-width="0.75" fill="none"/>
<path d="M134.40 55.20L136.70 57.50L134.40 59.80L132.10 57.50Z" stroke="#444" stroke-width="0.75" fill="none"/>
<path d="M177.80 75.00L180.10 77.30L177.80 79.60L175.50 77.30Z" stroke="#444" stroke-width="0.75" fill="none"/>
<path d="M216.50 61.20L218.80 63.50L216.50 65.80L214.20 63.50Z" stroke="#444" stroke-width="0.75" fill="none"/>
<path d="M264.60 59.30L266.90 61.60L264.60 63.90L262.30 61.60Z" stroke="#444" stroke-width="0.75" fill="none"/>
<path d="M260.80 63.50L263.10 65.80L260.80 68.10L258.50 65.80Z" stroke="#444" stroke-width="0.75" fill="none"/>
<path d="M286.20 74.70L288.50 77.00L286.20 79.30L283.90 77.00Z" stroke="#444" stroke-width="0.75" fill="none"/>
<path d="M318.80 85.00L321.10 87.30L318.80 89.60L316.50 87.30Z" stroke="#444" stroke-width="0.75" fill="none"/>
<path d="M337.30 86.40L339.60 88.70L337.30 91.00L335.00 88.70Z" stroke="#444" stroke-width="0.75" fill="none"/>
<path d="M85.80 228.30L89.80 232.30M85.80 232.30L89.80 228.30M86.40 230.30H89.20M87.80 228.90V231.70" stroke="#2a2a2a" stroke-width="0.7" fill="none"/>
<path d="M92.90 231.10L96.90 235.10M92.90 235.10L96.90 231.10M93.50 233.10H96.30M94.90 231.70V234.50" stroke="#2a2a2a" stroke-width="0.7" fill="none"/>
<path d="M57.80 245.80L61.80 249.80M57.80 249.80L61.80 245.80M58.40 247.80H61.20M59.80 246.40V249.20" stroke="#2a2a2a" stroke-width="0.7" fill="none"/>
<path d="M78.50 249.10L82.50 253.10M78.50 253.10L82.50 249.10M79.10 251.10H81.90M80.50 249.70V252.50" stroke="#2a2a2a" stroke-width="0.7" fill="none"/>
<path d="M88.20 249.10L92.20 253.10M88.20 253.10L92.20 249.10M88.80 251.10H91.60M90.20 249.70V252.50" stroke="#2a2a2a" stroke-width="0.7" fill="none"/>
<path d="M62.80 257.00L66.80 261.00M62.80 261.00L66.80 257.00M63.40 259.00H66.20M64.80 257.60V260.40" stroke="#2a2a2a" stroke-width="0.7" fill="none"/>
<path d="M61.50 270.00L65.50 274.00M61.50 274.00L65.50 270.00M62.10 272.00H64.90M63.50 270.60V273.40" stroke="#2a2a2a" stroke-width="0.7" fill="none"/>
<path d="M65.10 270.00L69.10 274.00M65.10 274.00L69.10 270.00M65.70 272.00H68.50M67.10 270.60V273.40" stroke="#2a2a2a" stroke-width="0.7" fill="none"/>
<path d="M73.10 272.90L77.10 276.90M73.10 276.90L77.10 272.90M73.70 274.90H76.50M75.10 273.50V276.30" stroke="#2a2a2a" stroke-width="0.7" fill="none"/>
<path d="M91.60 269.00L95.60 273.00M91.60 273.00L95.60 269.00M92.20 271.00H95.00M93.60 269.60V272.40" stroke="#2a2a2a" stroke-width="0.7" fill="none"/>
<path d="M70.50 284.30L74.50 288.30M70.50 288.30L74.50 284.30M71.10 286.30H73.90M72.50 284.90V287.70" stroke="#2a2a2a" stroke-width="0.7" fill="none"/>
<path d="M76.80 287.20L80.80 291.20M76.80 291.20L80.80 287.20M77.40 289.20H80.20M78.80 287.80V290.60" stroke="#2a2a2a" stroke-width="0.7" fill="none"/>
<path d="M63.80 311.70L67.80 315.70M63.80 315.70L67.80 311.70M64.40 313.70H67.20M65.80 312.30V315.10" stroke="#2a2a2a" stroke-width="0.7" fill="none"/>
<path d="M113.00 223.10L117.00 227.10M113.00 227.10L117.00 223.10M113.60 225.10H116.40M115.00 223.70V226.50" stroke="#2a2a2a" stroke-width="0.7" fill="none"/>
<path d="M117.20 229.00L121.20 233.00M117.20 233.00L121.20 229.00M117.80 231.00H120.60M119.20 229.60V232.40" stroke="#2a2a2a" stroke-width="0.7" fill="none"/>
<path d="M111.20 238.90L115.20 242.90M111.20 242.90L115.20 238.90M111.80 240.90H114.60M113.20 239.50V242.30" stroke="#2a2a2a" stroke-width="0.7" fill="none"/>
<path d="M115.70 241.40L119.70 245.40M115.70 245.40L119.70 241.40M116.30 243.40H119.10M117.70 242.00V244.80" stroke="#2a2a2a" stroke-width="0.7" fill="none"/>
<path d="M105.10 250.30L109.10 254.30M105.10 254.30L109.10 250.30M105.70 252.30H108.50M107.10 250.90V253.70" stroke="#2a2a2a" stroke-width="0.7" fill="none"/>
<path d="M97.10 254.00L101.10 258.00M97.10 258.00L101.10 254.00M97.70 256.00H100.50M99.10 254.60V257.40" stroke="#2a2a2a" stroke-width="0.7" fill="none"/>
<path d="M108.10 257.20L112.10 261.20M108.10 261.20L112.10 257.20M108.70 259.20H111.50M110.10 257.80V260.60" stroke="#2a2a2a" stroke-width="0.7" fill="none"/>
<path d="M106.30 265.00L110.30 269.00M106.30 269.00L110.30 265.00M106.90 267.00H109.70M108.30 265.60V268.40" stroke="#2a2a2a" stroke-width="0.7" fill="none"/>
<path d="M114.40 264.30L118.40 268.30M114.40 268.30L118.40 264.30M115.00 266.30H117.80M116.40 264.90V267.70" stroke="#2a2a2a" stroke-width="0.7" fill="none"/>
<path d="M97.30 282.80L101.30 286.80M97.30 286.80L101.30 282.80M97.90 284.80H100.70M99.30 283.40V286.20" stroke="#2a2a2a" stroke-width="0.7" fill="none"/>
<path d="M134.80 246.60L138.80 250.60M134.80 250.60L138.80 246.60M135.40 248.60H138.20M136.80 247.20V250.00" stroke="#2a2a2a" stroke-width="0.7" fill="none"/>
<path d="M164.60 220.00L168.60 224.00M164.60 224.00L168.60 220.00M165.20 222.00H168.00M166.60 220.60V223.40" stroke="#2a2a2a" stroke-width="0.7" fill="none"/>
<path d="M140.30 242.60L144.30 246.60M140.30 246.60L144.30 242.60M140.90 244.60H143.70M142.30 243.20V246.00" stroke="#2a2a2a" stroke-width="0.7" fill="none"/>
<path d="M146.80 245.40L150.80 249.40M146.80 249.40L150.80 245.40M147.40 247.40H150.20M148.80 246.00V248.80" stroke="#2a2a2a" stroke-width="0.7" fill="none"/>
<path d="M141.80 250.80L145.80 254.80M141.80 254.80L145.80 250.80M142.40 252.80H145.20M143.80 251.40V254.20" stroke="#2a2a2a" stroke-width="0.7" fill="none"/>
<path d="M143.80 262.80L147.80 266.80M143.80 266.80L147.80 262.80M144.40 264.80H147.20M145.80 263.40V266.20" stroke="#2a2a2a" stroke-width="0.7" fill="none"/>
<path d="M144.00 269.80L148.00 273.80M144.00 273.80L148.00 269.80M144.60 271.80H147.40M146.00 270.40V273.20" stroke="#2a2a2a" stroke-width="0.7" fill="none"/>
<path d="M194.60 220.70L198.60 224.70M194.60 224.70L198.60 220.70M195.20 222.70H198.00M196.60 221.30V224.10" stroke="#2a2a2a" stroke-width="0.7" fill="none"/>
<path d="M204.00 231.20L208.00 235.20M204.00 235.20L208.00 231.20M204.60 233.20H207.40M206.00 231.80V234.60" stroke="#2a2a2a" stroke-width="0.7" fill="none"/>
<path d="M193.70 235.40L197.70 239.40M193.70 239.40L197.70 235.40M194.30 237.40H197.10M195.70 236.00V238.80" stroke="#2a2a2a" stroke-width="0.7" fill="none"/>
<path d="M223.60 236.60L227.60 240.60M223.60 240.60L227.60 236.60M224.20 238.60H227.00M225.60 237.20V240.00" stroke="#2a2a2a" stroke-width="0.7" fill="none"/>
<path d="M230.70 225.20L234.70 229.20M230.70 229.20L234.70 225.20M231.30 227.20H234.10M232.70 225.80V228.60" stroke="#2a2a2a" stroke-width="0.7" fill="none"/>
<path d="M235.60 230.10L239.60 234.10M235.60 234.10L239.60 230.10M236.20 232.10H239.00M237.60 230.70V233.50" stroke="#2a2a2a" stroke-width="0.7" fill="none"/>
<path d="M241.50 226.20L245.50 230.20M241.50 230.20L245.50 226.20M242.10 228.20H244.90M243.50 226.80V229.60" stroke="#2a2a2a" stroke-width="0.7" fill="none"/>
<path d="M256.00 230.40L260.00 234.40M256.00 234.40L260.00 230.40M256.60 232.40H259.40M258.00 231.00V233.80" stroke="#2a2a2a" stroke-width="0.7" fill="none"/>
<path d="M245.50 245.90L249.50 249.90M245.50 249.90L249.50 245.90M246.10 247.90H248.90M247.50 246.50V249.30" stroke="#2a2a2a" stroke-width="0.7" fill="none"/>
<path d="M262.70 253.10L266.70 257.10M262.70 257.10L266.70 253.10M263.30 255.10H266.10M264.70 253.70V256.50" stroke="#2a2a2a" stroke-width="0.7" fill="none"/>
<path d="M295.70 205.30L299.70 209.30M295.70 209.30L299.70 205.30M296.30 207.30H299.10M297.70 205.90V208.70" stroke="#2a2a2a" stroke-width="0.7" fill="none"/>
<path d="M314.40 205.80L318.40 209.80M314.40 209.80L318.40 205.80M315.00 207.80H317.80M316.40 206.40V209.20" stroke="#2a2a2a" stroke-width="0.7" fill="none"/>
<path d="M274.70 232.50L278.70 236.50M274.70 236.50L278.70 232.50M275.30 234.50H278.10M276.70 233.10V235.90" stroke="#2a2a2a" stroke-width="0.7" fill="none"/>
<path d="M290.50 238.10L294.50 242.10M290.50 242.10L294.50 238.10M291.10 240.10H293.90M292.50 238.70V241.50" stroke="#2a2a2a" stroke-width="0.7" fill="none"/>
<path d="M293.30 239.90L297.30 243.90M293.30 243.90L297.30 239.90M293.90 241.90H296.70M295.30 240.50V243.30" stroke="#2a2a2a" stroke-width="0.7" fill="none"/>
<path d="M134.70 224.20L137.00 226.50L134.70 228.80L132.40 226.50Z" stroke="#444" stroke-width="0.75" fill="none"/>
<path d="M112.50 246.00L114.80 248.30L112.50 250.60L110.20 248.30Z" stroke="#444" stroke-width="0.75" fill="none"/>
<path d="M177.80 236.20L180.10 238.50L177.80 240.80L175.50 238.50Z" stroke="#444" stroke-width="0.75" fill="none"/>
<path d="M216.50 244.60L218.80 246.90L216.50 249.20L214.20 246.90Z" stroke="#444" stroke-width="0.75" fill="none"/>
<path d="M264.30 240.80L266.60 243.10L264.30 245.40L262.00 243.10Z" stroke="#444" stroke-width="0.75" fill="none"/>
<path d="M260.80 250.70L263.10 253.00L260.80 255.30L258.50 253.00Z" stroke="#444" stroke-width="0.75" fill="none"/>
<path d="M286.20 247.10L288.50 249.40L286.20 251.70L283.90 249.40Z" stroke="#444" stroke-width="0.75" fill="none"/>
<path d="M337.60 249.30L339.90 251.60L337.60 253.90L335.30 251.60Z" stroke="#444" stroke-width="0.75" fill="none"/>
<path d="M318.70 268.10L321.00 270.40L318.70 272.70L316.40 270.40Z" stroke="#444" stroke-width="0.75" fill="none"/>
<path d="M337.20 266.10L339.50 268.40L337.20 270.70L334.90 268.40Z" stroke="#444" stroke-width="0.75" fill="none"/>
<path d="M333.70 273.10L336.00 275.40L333.70 277.70L331.40 275.40Z" stroke="#444" stroke-width="0.75" fill="none"/>
<path d="M338.50 309.50L340.80 311.80L338.50 314.10L336.20 311.80Z" stroke="#444" stroke-width="0.75" fill="none"/>
<path d="M270.20 6.60L274.20 10.60M270.20 10.60L274.20 6.60M271.20 8.60H273.20M272.20 7.60V9.60" stroke="#2a2a2a" stroke-width="0.7" fill="none"/>
<path d="M272.20 21.90L274.40 24.10L272.20 26.30L270.00 24.10Z" stroke="#444" stroke-width="0.75" fill="none"/>
<text x="275.6" y="11.2" class="lg" textLength="34.6" lengthAdjust="spacingAndGlyphs">NGC_2281</text>
<text x="275.6" y="27.0" class="lg" textLength="37.6" lengthAdjust="spacingAndGlyphs">Melotte_25</text>
<text x="322.6" y="11.1" class="lg">8.78</text>
<text x="324" y="26.1" class="lg">8.87</text>
<g transform="translate(8.2,88.60) rotate(-90)">
<text x="0" y="0" class="ser">log <tspan dx="3.4" class="it">R</tspan><tspan dx="0.9" dy="0" font-size="11.5">′</tspan><tspan dx="-0.8" dy="5" class="sb" letter-spacing="-0.1">CaK</tspan></text>
</g>
<g transform="translate(8.2,278.60) rotate(-90)">
<text x="0" y="0" class="ser">log <tspan dx="3.4" class="it">R</tspan><tspan dx="0.9" dy="0" font-size="11.5">′</tspan><tspan dx="-0.3" dy="5" font-size="7.5" font-weight="bold" letter-spacing="-0.2">Hα</tspan></text>
</g>
<text x="179.0" y="159.80" class="ser"><tspan class="it">T</tspan><tspan dy="5.6" class="sb">eff</tspan><tspan dx="1.2" dy="-5.6">(K)</tspan></text>
<text x="179.0" y="351.00" class="ser"><tspan class="it">T</tspan><tspan dy="5.0" class="sb">eff</tspan><tspan dx="1.2" dy="-5.0">(K)</tspan></text>
</svg></body></html>
